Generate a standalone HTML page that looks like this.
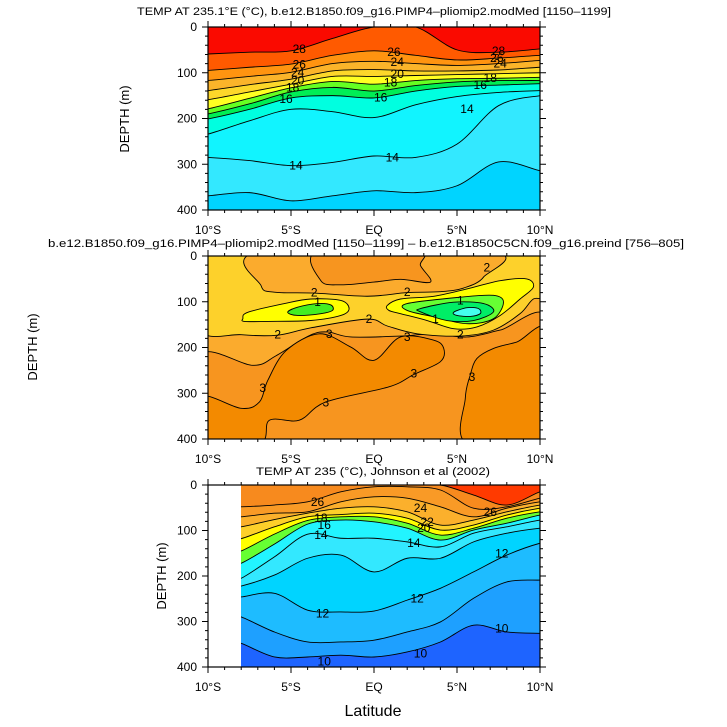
<!DOCTYPE html>
<html><head><meta charset="utf-8">
<style>
html,body{margin:0;padding:0;background:#fff;}
svg{display:block;font-family:"Liberation Sans",sans-serif;}
</style></head>
<body>
<svg id="fig" width="727" height="727" viewBox="0 0 727 727" xmlns="http://www.w3.org/2000/svg">
<defs>
<clipPath id="c1"><rect x="208" y="27" width="332" height="183"/></clipPath>
<clipPath id="c2"><rect x="208" y="256" width="332" height="183"/></clipPath>
<clipPath id="c3"><rect x="241" y="485" width="299" height="182"/></clipPath>
</defs>
<text x="374" y="15" text-anchor="middle" font-size="11" textLength="474" lengthAdjust="spacingAndGlyphs">TEMP AT 235.1°E (°C), b.e12.B1850.f09_g16.PIMP4–pliomip2.modMed [1150–1199]</text>
<text x="366" y="247" text-anchor="middle" font-size="11" textLength="636" lengthAdjust="spacingAndGlyphs">b.e12.B1850.f09_g16.PIMP4–pliomip2.modMed [1150–1199] – b.e12.B1850C5CN.f09_g16.preind [756–805]</text>
<text x="373" y="475" text-anchor="middle" font-size="11" textLength="234" lengthAdjust="spacingAndGlyphs">TEMP AT 235 (°C), Johnson et al (2002)</text>
<text transform="translate(129,119) rotate(-90)" text-anchor="middle" font-size="13">DEPTH (m)</text>
<text transform="translate(37,347) rotate(-90)" text-anchor="middle" font-size="13">DEPTH (m)</text>
<text transform="translate(166,576) rotate(-90)" text-anchor="middle" font-size="13">DEPTH (m)</text>
<text x="373" y="716" text-anchor="middle" font-size="16">Latitude</text>
<g id="layer"></g>
</svg>
<script>
// ---------- data ----------
const xTickLabels = ["10°S","5°S","EQ","5°N","10°N"];
const xTickLats = [-10,-5,0,5,10];
const yTickLabels = ["0","100","200","300","400"];
const yTickDepths = [0,100,200,300,400];

// Panel 1: model temperature isotherm depths (m) at latitudes
const p1Lats = [-10,-7.5,-5,-2.5,0,2.5,5,7.5,10];
const p1Levels = [28,26,24,22,20,18,17,16,15,14,13];
const p1Iso28 = [59,55,52,25,0,0,50,55,48];
const p1Iso26 = [95,88,81,62,52,62,72,68,62];
const p1Iso24 = [117,108,99,80,75,80,84,80,73];
const p1Iso22 = [139,126,114,96,93,96,96,94,88];
const p1Iso20 = [159,142,125,108,108,106,104,102,100];
const p1Iso18 = [179,156,133,119,125,117,113,112,110];
const p1Iso17 = [190,168,142,132,140,128,120,117,117];
const p1Iso16 = [201,180,155,150,155,140,130,127,124];
const p1Iso15 = [234,205,180,185,198,170,152,143,139];
const p1Iso14 = [285,292,303,296,282,285,256,172,150];
const p1Iso13 = [369,362,380,369,358,362,347,295,314];
const p1TopColor = "#fa0a00";
const p1BandColors = ["#ff5a00","#ff9410","#fbb42a","#fdd72a","#ffff22","#66ff22","#00ee55","#00ffe0","#11f4ff","#33e8ff","#00d4ff"];
const p1Labels = [["28",-4.5,48],["28",7.5,53],["26",-4.5,82],["26",1.2,55],["24",1.4,77],["20",1.4,103],["18",1,121],["16",0.4,154],["16",-5.3,157],["18",-4.9,132],["16",6.4,127],["18",7,112],["14",5.6,179],["14",1.1,285],["14",-4.7,303],["24",-4.6,99],["20",-4.6,117],["26",7.4,68],["24",7.6,80]];

// Panel 2: difference field regions, [lat, depth] vertices
const p2BaseColor = "#fbab2d";
const p2Gold = [[-10.5,-10],[10.5,-10],[10.5,86],[9.6,94],[8.8,126],[7.2,162],[5.2,175],[2.6,170],[0.8,153],[-0.4,138],[-3.8,157],[-5.8,173],[-8,172],[-10.5,159]];
const p2UpperOrange = [[-6.8,-10],[-6.8,65],[-6,79],[-3.6,81],[-0.4,88],[2,80],[4,78],[5.4,70],[6.6,46],[7,-10]];
const p2TopPatch = [[-3.4,-10],[-3.2,54],[-2,63],[0,57],[1.6,51],[3.4,57],[2.8,21],[2.6,-10]];
const p2Medium = [[-10.5,218],[-7.3,239],[-5.9,218],[-3.9,174],[-2.8,166],[-1.4,177],[1.6,175],[3.6,170],[5.6,177],[7.6,162],[10.5,137],[10.5,410],[-10.5,410]];
const p2DarkMain = [[-10.5,308],[-8,333],[-6.9,319],[-6.4,272],[-5.3,207],[-3.3,170],[-1.4,199],[0,228],[1.6,177],[3.6,184],[4.2,202],[4,231],[2.4,259],[0.9,286],[-2.9,319],[-4.5,359],[-6.3,359],[-6.9,410],[-10.5,410]];
const p2DarkRight = [[5.6,410],[5.5,311],[5.8,260],[6.2,224],[7.2,202],[8.6,188],[10.5,166],[10.5,410]];
const p2YellowLeft = [[-7.9,137],[-7.6,123],[-5.4,104],[-3.8,94],[-2,97],[-1.5,115],[-2,130],[-3.8,141],[-6.4,143],[-7.8,143]];
const p2GreenLeft = [[-5.2,123],[-4.6,112],[-3.4,104],[-2.6,107],[-2.5,119],[-3.2,126],[-4.6,130]];
const p2YellowRight = [[0.8,108],[1.6,94],[3.6,88],[5.6,72],[7.6,54],[9.2,50],[9.6,68],[8.8,94],[7.6,130],[6.2,155],[4.8,159],[3.2,141],[1.6,126],[0.9,119]];
const p2RingRight = [[2,104],[5.2,90],[7.2,86],[7.8,101],[7.2,137],[5.6,148],[3.6,133],[2,119]];
const p2GreenRight = [[2.8,115],[4.8,101],[6.6,104],[7.2,122],[6,141],[4.4,141],[2.8,122]];
const p2CyanRight = [[4.8,123],[5.6,113],[6.3,115],[6.4,126],[5.8,132],[5,130]];
const p2Labels = [["2",-3.6,80],["2",2,79],["2",6.8,25],["2",-5.8,172],["2",-0.3,138],["2",5.2,172],["1",-3.4,101],["1",5.2,97],["1",3.7,138],["3",-2.7,170],["3",2,177],["3",2.4,257],["3",-6.7,289],["3",-2.9,320],["3",5.9,264]];

// Panel 3: observed temperature isotherm depths (m)
const p3Lats = [-8,-6,-4,-2,0,2,4,6,8,10];
const p3Levels = [28,26,24,22,20,18,16,14,13,12,11,10];
const p3Iso28 = [0,0,0,0,0,0,0,22,44,15];
const p3Iso26 = [48,44,37,15,4,4,11,51,48,29];
const p3Iso24 = [70,62,59,37,26,29,48,70,51,37];
const p3Iso22 = [92,76,62,51,48,59,88,77,59,44];
const p3Iso20 = [118,92,70,65,62,73,99,88,66,51];
const p3Iso18 = [145,108,78,70,70,84,110,95,73,59];
const p3Iso16 = [172,130,86,77,81,95,121,99,84,66];
const p3Iso14 = [205,158,108,117,117,125,136,106,92,77];
const p3Iso13 = [222,198,161,154,191,161,161,125,106,95];
const p3Iso12 = [246,238,275,279,277,253,227,191,154,128];
const p3Iso11 = [290,323,345,345,341,323,301,249,213,209];
const p3Iso10 = [348,378,378,374,378,367,345,308,323,326];
const p3TopColor = "#ff3a00";
const p3BandColors = ["#f78a1e","#f99a26","#fbb02c","#fdd02a","#ffff00","#66ff33","#22f4ff","#33e8ff","#00d4ff","#1ebcff","#1ea0ff","#1e64ff"];
const p3Labels = [["26",-3.4,37],["24",2.8,51],["22",3.2,81],["20",3,95],["14",-3.2,110],["14",2.4,128],["26",7,59],["12",7.7,150],["12",2.6,249],["12",-3.1,282],["10",7.7,315],["10",2.8,370],["10",-3,388],["16",-3,88],["18",-3.2,73]];

// ---------- axes ----------
const panels = [
  {name:"panel1", top:27, h:183, clip:"c1", labY:234},
  {name:"panel2", top:256, h:183, clip:"c2", labY:463},
  {name:"panel3", top:485, h:182, clip:"c3", labY:691}
];
const X0 = 208, XW = 332;
function xs(lat){ return X0 + (lat + 10) / 20 * XW; }
function ys(p, d){ return p.top + d / 400 * p.h; }

const NS = "http://www.w3.org/2000/svg";
const layer = document.getElementById("layer");
function mk(tag, attrs, parent){
  const e = document.createElementNS(NS, tag);
  for (const k in attrs) e.setAttribute(k, attrs[k]);
  (parent || layer).appendChild(e);
  return e;
}
function smooth(pts, closed){
  const n = pts.length;
  if (n < 2) return "";
  let d = "M" + pts[0][0].toFixed(2) + "," + pts[0][1].toFixed(2);
  const last = closed ? n : n - 1;
  for (let i = 0; i < last; i++){
    const p0 = pts[closed ? (i - 1 + n) % n : Math.max(i - 1, 0)];
    const p1 = pts[i];
    const p2 = pts[(i + 1) % n];
    const p3 = pts[closed ? (i + 2) % n : Math.min(i + 2, n - 1)];
    const c1x = p1[0] + (p2[0] - p0[0]) / 6, c1y = p1[1] + (p2[1] - p0[1]) / 6;
    const c2x = p2[0] - (p3[0] - p1[0]) / 6, c2y = p2[1] - (p3[1] - p1[1]) / 6;
    d += "C" + c1x.toFixed(2) + "," + c1y.toFixed(2) + " " + c2x.toFixed(2) + "," + c2y.toFixed(2) + " " + p2[0].toFixed(2) + "," + p2[1].toFixed(2);
  }
  if (closed) d += "Z";
  return d;
}

function drawIsoPanel(p, lats, isos, levels, topColor, bandColors, labels, xFrom){
  const g = mk("g", {"clip-path":"url(#" + p.clip + ")"});
  
  
  const bg = mk("rect", {x:xs(xFrom), y:p.top, width:X0 + XW - xs(xFrom), height:p.h, fill:topColor}, g);
  
  
  const lineStrs = [];
  isos.forEach((arr, k) => {
    const pts = lats.map((lat, i) => [xs(lat), ys(p, arr[i])]);
    const first = [xs(lats[0]) - 10, pts[0][1]];
    const lastp = [xs(lats[lats.length - 1]) + 10, pts[pts.length - 1][1]];
    const all = [first].concat(pts, [lastp]);
    const line = smooth(all, false);
    const fill = mk("path", {d: line + "L" + lastp[0] + "," + (p.top + p.h + 20) + "L" + first[0] + "," + (p.top + p.h + 20) + "Z", fill: bandColors[k]}, g);
    
    
    lineStrs.push([line, levels[k]]);
  });
  lineStrs.forEach(([line, lev]) => {
    const l = mk("path", {d: line, fill:"none", stroke:"#000", "stroke-width":"0.9"}, g);
    
    
  });
  labels.forEach(([t, lat, dep]) => {
    const tx = mk("text", {x:xs(lat), y:ys(p, dep) + 4, "font-size":"12", "text-anchor":"middle", fill:"#000"}, g);
    tx.textContent = t;
    
    
  });
}

function drawPanel2(p){
  const g = mk("g", {"clip-path":"url(#" + p.clip + ")"});
  
  
  const bg = mk("rect", {x:X0, y:p.top, width:XW, height:p.h, fill:p2BaseColor}, g);
  
  
  const regions = [
    [p2Medium, "#f7951f", "medium-orange-region"],
    [p2DarkMain, "#f38a00", "dark-orange-region-main"],
    [p2DarkRight, "#f38a00", "dark-orange-region-right"],
    [p2Gold, "#fdd12b", "gold-region"],
    [p2UpperOrange, "#fbab2d", "upper-orange-region"],
    [p2TopPatch, "#f7951f", "top-medium-patch"],
    [p2YellowLeft, "#ffff00", "yellow-blob-left"],
    [p2GreenLeft, "#44ee22", "green-blob-left"],
    [p2YellowRight, "#ffff00", "yellow-blob-right"],
    [p2RingRight, "#66ff33", "green-ring-right"],
    [p2GreenRight, "#00ee66", "green-blob-right"],
    [p2CyanRight, "#44ffee", "cyan-blob-right"]
  ];
  regions.forEach(([pts, col, nm]) => {
    const sp = pts.map(q => [xs(q[0]), ys(p, q[1])]);
    const e = mk("path", {d: smooth(sp, true), fill: col, stroke:"#000", "stroke-width":"0.9"}, g);
    
    
  });
  p2Labels.forEach(([t, lat, dep]) => {
    const tx = mk("text", {x:xs(lat), y:ys(p, dep) + 4, "font-size":"12", "text-anchor":"middle"}, g);
    tx.textContent = t;
    
    
  });
}

function drawAxes(p){
  const g = mk("g", {});
  
  
  const fr = mk("rect", {x:X0, y:p.top, width:XW, height:p.h, fill:"none", stroke:"#000", "stroke-width":"1.2"}, g);
  
  
  let d = "";
  for (let lat = -10; lat <= 10; lat++){
    const x = xs(lat), len = (lat % 5 === 0) ? 6 : 3;
    d += "M" + x + "," + p.top + "v" + (-len) + "M" + x + "," + (p.top + p.h) + "v" + len;
  }
  for (let dep = 0; dep <= 400; dep += 20){
    const y = ys(p, dep), len = (dep % 100 === 0) ? 6 : 3;
    d += "M" + X0 + "," + y + "h" + (-len) + "M" + (X0 + XW) + "," + y + "h" + len;
  }
  const t = mk("path", {d:d, stroke:"#000", "stroke-width":"1", fill:"none"}, g);
  
  
  xTickLats.forEach((lat, i) => {
    const tx = mk("text", {x:xs(lat), y:p.labY, "font-size":"12", "text-anchor":"middle"}, g);
    tx.textContent = xTickLabels[i];
    
    
  });
  yTickDepths.forEach((dep, i) => {
    const tx = mk("text", {x:X0 - 11, y:ys(p, dep) + 4, "font-size":"12", "text-anchor":"end"}, g);
    tx.textContent = yTickLabels[i];
    
    
  });
}

drawIsoPanel(panels[0], p1Lats, [p1Iso28,p1Iso26,p1Iso24,p1Iso22,p1Iso20,p1Iso18,p1Iso17,p1Iso16,p1Iso15,p1Iso14,p1Iso13], p1Levels, p1TopColor, p1BandColors, p1Labels, -10);
drawPanel2(panels[1]);
drawIsoPanel(panels[2], p3Lats, [p3Iso28,p3Iso26,p3Iso24,p3Iso22,p3Iso20,p3Iso18,p3Iso16,p3Iso14,p3Iso13,p3Iso12,p3Iso11,p3Iso10], p3Levels, p3TopColor, p3BandColors, p3Labels, -8);
panels.forEach(drawAxes);
</script>
</body></html>
